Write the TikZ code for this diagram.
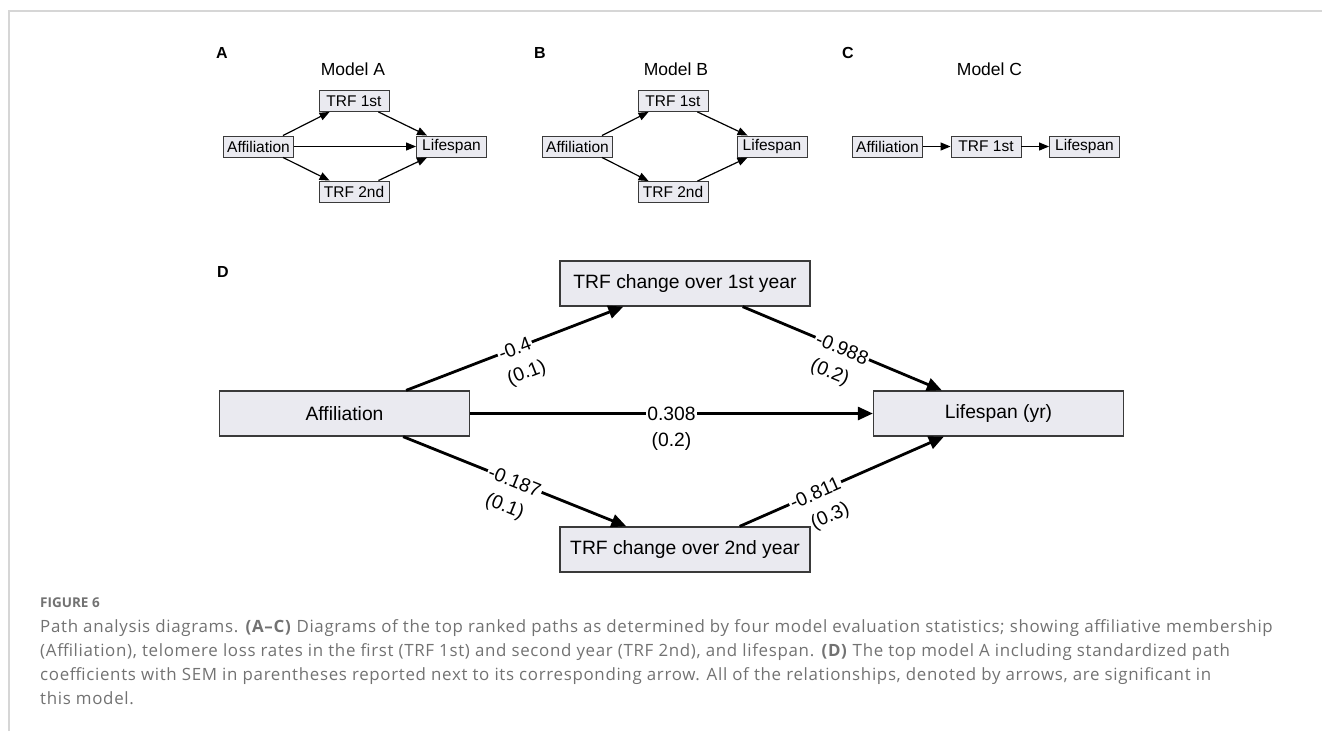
\documentclass[tikz,border=0pt]{standalone}
\usepackage{fontspec}
\setmainfont{Liberation Sans}
\newfontfamily\capfont[LetterSpace=4]{Open Sans}
\newfontfamily\figfont{Open Sans}
\usepackage{xcolor}
\usepackage{tikz}
\usetikzlibrary{arrows.meta}
\definecolor{boxfill}{HTML}{EAEAF0}
\definecolor{boxline}{HTML}{3A3A3A}
\definecolor{capgray}{HTML}{727272}
\definecolor{rulegray}{HTML}{D6D6D6}

\begin{document}
\begin{tikzpicture}[x=1pt,y=-1pt]
	\useasboundingbox (0,0) rectangle (1322,731);
	\draw[rulegray,line width=1.5pt] (9,731) -- (9,11) -- (1322,11);
	% panel letters and titles
	\tikzstyle{every node}=[font=\bfseries\fontsize{16}{19}\selectfont];
	\node (labA) at (222,53) {A};
	\node (labB) at (540,53) {B};
	\node (labC) at (848,53) {C};
	\node (labD) at (223,272) {D};
	\tikzstyle{every node}=[font=\fontsize{17.5}{20}\selectfont];
	\node (titA) at (353,69) {Model A};
	\node (titB) at (676,69) {Model B};
	\node (titC) at (989.5,69) {Model C};
	% small models
	\tikzstyle{every node}=[draw=boxline,fill=boxfill,line width=0.9pt,inner xsep=3pt,inner ysep=0pt,minimum width=70pt,minimum height=21pt,font=\fontsize{15.5}{18}\selectfont];
	\node (affA) at (258.5,146.5) {Affiliation};
	\node (t1A) at (354,101) {TRF 1st};
	\node (t2A) at (354,191.5) {TRF 2nd};
	\node (lifeA) at (451.5,146.5) {Lifespan};
	\node (affB) at (577.5,146.5) {Affiliation};
	\node (t1B) at (673,101) {TRF 1st};
	\node (t2B) at (673,192) {TRF 2nd};
	\node (lifeB) at (772,146.5) {Lifespan};
	\node (affC) at (887.5,146.5) {Affiliation};
	\node (t1C) at (986,146.5) {TRF 1st};
	\node (lifeC) at (1084.5,146.5) {Lifespan};
	\tikzstyle{every node}=[];
	\tikzstyle{sarr}=[line width=1.2pt,-{Triangle[length=10pt,width=8pt]}];
	\draw[sarr] ([xshift=-11pt]affA.north east)--([xshift=11pt]t1A.south west);
	\draw[sarr] ([xshift=-11pt]affA.south east)--([xshift=11pt]t2A.north west);
	\draw[sarr] (affA.east)--(lifeA.west);
	\draw[sarr] ([xshift=-11pt]t1A.south east)--([xshift=11pt]lifeA.north west);
	\draw[sarr] ([xshift=-11pt]t2A.north east)--([xshift=11pt]lifeA.south west);
	\draw[sarr] ([xshift=-11pt]affB.north east)--([xshift=11pt]t1B.south west);
	\draw[sarr] ([xshift=-11pt]affB.south east)--([xshift=11pt]t2B.north west);
	\draw[sarr] ([xshift=-11pt]t1B.south east)--([xshift=11pt]lifeB.north west);
	\draw[sarr] ([xshift=-11pt]t2B.north east)--([xshift=11pt]lifeB.south west);
	\draw[sarr] (affC.east)--(t1C.west);
	\draw[sarr] (t1C.east)--(lifeC.west);
	% model D with coefficients
	\tikzstyle{every node}=[draw=boxline,fill=boxfill,line width=1.3pt,minimum width=250pt,minimum height=45pt,font=\fontsize{19.3}{22}\selectfont];
	\node (affD) at (344.5,413.5) {Affiliation};
	\node (t1D) at (685,283.5) {TRF change over 1st year};
	\node (t2D) at (685,549.5) {TRF change over 2nd year};
	\node (lifeD) at (998.5,413.5) {Lifespan (yr)};
	\tikzstyle{every node}=[font=\fontsize{19.3}{22}\selectfont,sloped];
	\tikzstyle{darr}=[line width=2.8pt,-{Triangle[length=15pt,width=13pt]}];
	\tikzset{coef/.style={pos=#1,fill=white,inner sep=1.5pt},sem/.style={pos=#1,yshift=-27.5pt}}
	\draw[darr] ([xshift=-64pt]affD.north east) -- node[coef=0.5] (c1) {-0.4} node[sem=0.51] (s1) {(0.1)} ([xshift=64pt]t1D.south west);
	\draw[darr] ([xshift=-67pt]affD.south east) -- node[coef=0.5] (c2) {-0.187} node[sem=0.5] (s2) {(0.1)} ([xshift=67pt]t2D.north west);
	\draw[darr] (affD.east) -- node[coef=0.5] (c3) {0.308} node[sem=0.5] (s3) {(0.2)} (lifeD.west);
	\draw[darr] ([xshift=-68pt]t1D.south east) -- node[coef=0.5] (c4) {-0.988} node[sem=0.49] (s4) {(0.2)} ([xshift=69pt]lifeD.north west);
	\draw[darr] ([xshift=-71pt]t2D.north east) -- node[coef=0.37] (c5) {-0.811} node[sem=0.39] (s5) {(0.3)} ([xshift=71pt]lifeD.south west);
	% caption
	\tikzstyle{every node}=[capgray,anchor=north west,inner sep=0pt];
	\node[font=\figfont\bfseries\fontsize{13.5}{16}\selectfont] (fig) at (40,598) {FIGURE 6};
	\node[font=\capfont\fontsize{16.9}{24}\selectfont,align=left] (cap) at (40,619) {Path analysis diagrams. \textbf{(A–C)} Diagrams of the top ranked paths as determined by four model evaluation statistics; showing affiliative membership\\(Affiliation), telomere loss rates in the first (TRF 1st) and second year (TRF 2nd), and lifespan. \textbf{(D)} The top model A including standardized path\\coefficients with SEM in parentheses reported next to its corresponding arrow. All of the relationships, denoted by arrows, are significant in\\this model.};
\end{tikzpicture}
\end{document}
